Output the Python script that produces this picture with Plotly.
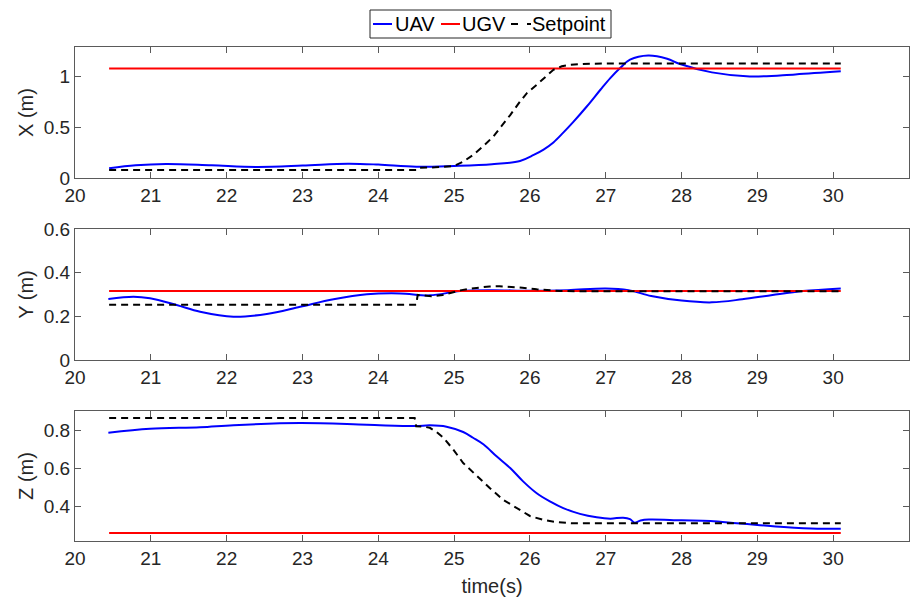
import plotly.graph_objects as go

# ---- X position (m) ----
t_x_uav = [20.45, 20.8, 21.2, 21.8, 22.4, 23.0, 23.6, 24.0, 24.5, 25.0, 25.5, 25.87, 26.05, 26.18,
           26.31, 26.44, 26.57, 26.75, 26.93, 27.06, 27.19, 27.32, 27.56, 27.81, 27.98, 28.4,
           28.9, 29.5, 30.1]
x_uav = [0.095, 0.125, 0.138, 0.125, 0.109, 0.122, 0.141, 0.132, 0.11, 0.118, 0.135, 0.168, 0.227,
         0.28, 0.35, 0.447, 0.55, 0.704, 0.869, 0.984, 1.083, 1.165, 1.207, 1.175, 1.122, 1.04,
         1.0, 1.02, 1.05]
t_x_sp = [20.45, 24.5, 24.52, 24.75, 25.0, 25.12, 25.25, 25.38, 25.52, 25.63, 25.74, 25.87, 25.96,
          26.09, 26.2, 26.31, 26.42, 26.53, 26.7, 27.0, 30.1]
x_sp = [0.08, 0.08, 0.1, 0.105, 0.118, 0.16, 0.227, 0.31, 0.41, 0.51, 0.62, 0.753, 0.836,
        0.918, 0.995, 1.066, 1.1, 1.115, 1.123, 1.127, 1.127]
t_x_ugv = [20.45, 30.1]
x_ugv = [1.078, 1.078]

# ---- Y position (m) ----
t_y_uav = [20.44, 20.77, 20.99, 21.34, 21.65, 22.09, 22.53, 22.97, 23.41, 23.85, 24.29, 24.68,
           25.08, 25.5, 26.0, 26.5, 27.0, 27.3, 27.6, 28.0, 28.4, 28.8, 29.2, 29.6, 30.1]
y_uav = [0.279, 0.29, 0.283, 0.252, 0.221, 0.198, 0.211, 0.244, 0.278, 0.301, 0.305, 0.296,
         0.316, 0.32, 0.317, 0.32, 0.328, 0.32, 0.293, 0.272, 0.264, 0.278, 0.298, 0.316, 0.328]
t_y_sp = [20.45, 24.5, 24.52, 24.7, 24.85, 24.98, 25.1, 25.21, 25.34, 25.47, 25.6, 25.74, 25.9,
          26.09, 26.25, 26.4, 26.6, 30.1]
y_sp = [0.253, 0.253, 0.298, 0.292, 0.298, 0.31, 0.32, 0.327, 0.333, 0.337, 0.338, 0.336, 0.331,
        0.324, 0.319, 0.316, 0.315, 0.315]
t_y_ugv = [20.45, 30.1]
y_ugv = [0.316, 0.316]

# ---- Z position (m) ----
t_z_uav = [20.44, 20.99, 21.65, 22.09, 22.97, 23.85, 24.49, 24.68, 24.9, 25.12, 25.25, 25.39,
           25.56, 25.74, 25.91, 26.09, 26.27, 26.44, 26.66, 26.88, 27.06, 27.23, 27.32, 27.38,
           27.46, 27.57, 28.0, 28.38, 28.73, 29.0, 29.35, 29.79, 30.1]
z_uav = [0.786, 0.807, 0.815, 0.826, 0.837, 0.828, 0.821, 0.825, 0.818, 0.79, 0.76, 0.725,
         0.663, 0.602, 0.532, 0.47, 0.426, 0.392, 0.362, 0.344, 0.337, 0.342, 0.334, 0.316,
         0.327, 0.332, 0.328, 0.325, 0.313, 0.304, 0.293, 0.284, 0.284]
t_z_sp = [20.45, 24.48, 24.5, 24.6, 24.68, 24.77, 24.86, 24.99, 25.12, 25.3, 25.47, 25.65, 25.83,
          26.0, 26.18, 26.35, 26.55, 30.1]
z_sp = [0.863, 0.863, 0.82, 0.818, 0.812, 0.79, 0.76, 0.698, 0.628, 0.558, 0.497, 0.435, 0.392,
        0.351, 0.33, 0.319, 0.313, 0.313]
t_z_ugv = [20.45, 30.1]
z_ugv = [0.262, 0.262]

x_ticks = list(range(20, 32))
y_labels = ["X (m)", "Y (m)", "Z (m)"]
y_ranges = [[0, 1.29], [0, 0.6], [0.22, 0.9]]
y_tickvals = [[0, 0.5, 1], [0, 0.2, 0.4, 0.6], [0.4, 0.6, 0.8]]
legend_names = ["UAV", "UGV", "Setpoint"]

W, H = 916, 597
TXT = "#262626"
FRAME = "#5a5a5a"
FONT = "Liberation Sans, Arial, sans-serif"
UAV_C, UGV_C, SP_C = "#0000ff", "#ff0000", "#000000"
SP_DASH = "7px,5px"

# vertical pixel extents of the three panels (top, bottom)
panels = [(47, 178), (229, 360), (411, 541)]
x_dom = [75 / W, 909 / W]

fig = go.Figure()

series = [
    (t_x_uav, x_uav, t_x_ugv, x_ugv, t_x_sp, x_sp),
    (t_y_uav, y_uav, t_y_ugv, y_ugv, t_y_sp, y_sp),
    (t_z_uav, z_uav, t_z_ugv, z_ugv, t_z_sp, z_sp),
]

for i, (tu, vu, tg, vg, ts, vs) in enumerate(series):
    xa = "x" if i == 0 else f"x{i+1}"
    ya = "y" if i == 0 else f"y{i+1}"
    fig.add_trace(go.Scatter(x=tu, y=vu, mode="lines", name="UAV", xaxis=xa, yaxis=ya,
                             line=dict(color=UAV_C, width=2, shape="spline", smoothing=1.0),
                             showlegend=False))
    fig.add_trace(go.Scatter(x=tg, y=vg, mode="lines", name="UGV", xaxis=xa, yaxis=ya,
                             line=dict(color=UGV_C, width=2), showlegend=False))
    fig.add_trace(go.Scatter(x=ts, y=vs, mode="lines", name="Setpoint", xaxis=xa, yaxis=ya,
                             line=dict(color=SP_C, width=2, dash=SP_DASH),
                             showlegend=False))

axis_common = dict(showline=True, linecolor=FRAME, linewidth=1, mirror="ticks",
                   ticks="inside", ticklen=6, tickcolor=FRAME, tickwidth=1,
                   showgrid=False, zeroline=False, automargin=False,
                   tickfont=dict(family=FONT, size=19, color=TXT))

shapes = []
annotations = []


# compact boxed legend across the top (pixel layout converted to paper units)
def px(x):
    return x / W


def py(y):
    return 1 - y / H


shapes.append(dict(type="rect", xref="paper", yref="paper",
                   x0=px(370), x1=px(611), y0=py(38), y1=py(10),
                   line=dict(color=TXT, width=1), fillcolor="white", layer="above"))
legend_items = [
    (legend_names[0], UAV_C, "solid", 373, 392, 393),
    (legend_names[1], UGV_C, "solid", 441, 460, 460),
    (legend_names[2], SP_C, "7px,9px", 511, 531, 530),
]
for name, col, dash, lx0, lx1, tx in legend_items:
    shapes.append(dict(type="line", xref="paper", yref="paper",
                       x0=px(lx0), x1=px(lx1), y0=py(24), y1=py(24),
                       line=dict(color=col, width=2, dash=dash), layer="above"))
    annotations.append(dict(text=name, xref="paper", yref="paper", x=px(tx), y=py(24),
                            xanchor="left", yanchor="middle", showarrow=False,
                            font=dict(family=FONT, size=20, color="black")))

layout = dict(
    width=W, height=H,
    margin=dict(l=0, r=0, t=0, b=0),
    paper_bgcolor="white", plot_bgcolor="white",
    showlegend=False,
    shapes=shapes,
    annotations=annotations,
)

for i, (top, bot) in enumerate(panels):
    sx = "" if i == 0 else str(i + 1)
    xa = dict(axis_common, domain=x_dom, range=[20, 31], tickvals=x_ticks,
              anchor="y" + sx)
    if i == 2:
        xa["title"] = dict(text="time(s)", font=dict(family=FONT, size=20, color=TXT), standoff=13)
    ya = dict(axis_common, domain=[1 - bot / H, 1 - top / H], range=y_ranges[i],
              tickvals=y_tickvals[i], anchor="x" + sx,
              title=dict(text=y_labels[i], font=dict(family=FONT, size=20, color=TXT), standoff=4))
    layout["xaxis" + sx] = xa
    layout["yaxis" + sx] = ya

fig.update_layout(**layout)
fig.write_html("out.html")
